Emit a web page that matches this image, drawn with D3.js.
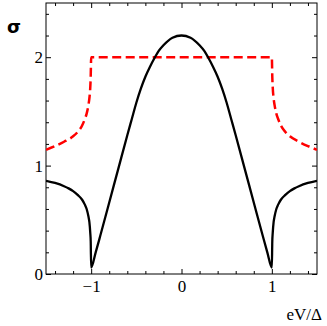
<!DOCTYPE html>
<html>

<head>
    <meta charset="UTF-8" />
    <script src="https://d3js.org/d3.v7.min.js"></script>
    <style>
        body { margin: 0; background: #fff; }
    </style>
</head>

<body>
    <script>
        // black curve (solid)
        let blackX = [-1.5, -1.4, -1.3, -1.25, -1.2, -1.15, -1.1, -1.07, -1.05, -1.03, -1.02, -1.01, -1.005, -1.0,
            -0.95, -0.9, -0.8, -0.7, -0.6, -0.55, -0.5, -0.45, -0.4, -0.35, -0.3, -0.25, -0.2, -0.1, 0,
            0.1, 0.2, 0.25, 0.3, 0.35, 0.4, 0.45, 0.5, 0.55, 0.6, 0.7, 0.8, 0.9, 0.95,
            1.0, 1.005, 1.01, 1.02, 1.03, 1.05, 1.07, 1.1, 1.15, 1.2, 1.25, 1.3, 1.4, 1.5];
        let blackY = [0.86, 0.84, 0.81, 0.79, 0.765, 0.73, 0.685, 0.64, 0.60, 0.53, 0.48, 0.38, 0.30, 0.06,
            0.20, 0.35, 0.66, 0.97, 1.28, 1.43, 1.58, 1.71, 1.82, 1.91, 1.99, 2.06, 2.11, 2.18, 2.20,
            2.18, 2.11, 2.06, 1.99, 1.91, 1.82, 1.71, 1.58, 1.43, 1.28, 0.97, 0.66, 0.35, 0.20,
            0.06, 0.30, 0.38, 0.48, 0.53, 0.60, 0.64, 0.685, 0.73, 0.765, 0.79, 0.81, 0.84, 0.86];

        // red curve (dashed)
        let redX = [-1.5, -1.4, -1.3, -1.2, -1.15, -1.1, -1.07, -1.05, -1.03, -1.02, -1.01, -1.005, -1.0,
            -0.5, 0, 0.5,
            1.0, 1.005, 1.01, 1.02, 1.03, 1.05, 1.07, 1.1, 1.15, 1.2, 1.3, 1.4, 1.5];
        let redY = [1.146, 1.18, 1.22, 1.27, 1.31, 1.37, 1.43, 1.48, 1.56, 1.62, 1.72, 1.82, 2.0,
            2.0, 2.0, 2.0,
            2.0, 1.82, 1.72, 1.62, 1.56, 1.48, 1.43, 1.37, 1.31, 1.27, 1.22, 1.18, 1.146];

        let xMajor = [-1, 0, 1];
        let xMinor = [-1.4, -1.2, -0.8, -0.6, -0.4, -0.2, 0.2, 0.4, 0.6, 0.8, 1.2, 1.4];
        let yMajor = [0, 1, 2];
        let yMinor = [0.2, 0.4, 0.6, 0.8, 1.2, 1.4, 1.6, 1.8, 2.2, 2.4];

        let width = 327;
        let height = 326;
        let margin = { top: 3, right: 10, bottom: 52, left: 46 };

        let svg = d3.select("body")
            .append("svg")
            .attr("width", width)
            .attr("height", height)

        let x = d3.scaleLinear()
            .domain([-1.5, 1.5])
            .range([margin.left, width - margin.right]);

        let y = d3.scaleLinear()
            .domain([0, 2.5])
            .range([height - margin.bottom, margin.top]);

        let serif = "'Liberation Serif', 'Times New Roman', serif";

        function styleAxis(g) {
            g.select(".domain").remove();
            g.selectAll("line").attr("stroke", "#000").attr("stroke-width", 1);
            g.selectAll("text").attr("font-family", serif).attr("font-size", 17).attr("fill", "#000");
        }

        // bottom
        svg.append("g")
            .attr("transform", `translate(0,${height - margin.bottom})`)
            .call(d3.axisBottom(x).tickValues(xMajor).tickSize(-5).tickPadding(6).tickFormat(d3.format("d")))
            .call(styleAxis);
        svg.append("g")
            .attr("transform", `translate(0,${height - margin.bottom})`)
            .call(d3.axisBottom(x).tickValues(xMinor).tickSize(-3).tickFormat(""))
            .call(styleAxis);
        // top
        svg.append("g")
            .attr("transform", `translate(0,${margin.top})`)
            .call(d3.axisTop(x).tickValues(xMajor).tickSize(-5).tickFormat(""))
            .call(styleAxis);
        svg.append("g")
            .attr("transform", `translate(0,${margin.top})`)
            .call(d3.axisTop(x).tickValues(xMinor).tickSize(-3).tickFormat(""))
            .call(styleAxis);
        // left
        svg.append("g")
            .attr("transform", `translate(${margin.left},0)`)
            .call(d3.axisLeft(y).tickValues(yMajor).tickSize(-5).tickPadding(3).tickFormat(d3.format("d")))
            .call(styleAxis);
        svg.append("g")
            .attr("transform", `translate(${margin.left},0)`)
            .call(d3.axisLeft(y).tickValues(yMinor).tickSize(-3).tickFormat(""))
            .call(styleAxis);
        // right
        svg.append("g")
            .attr("transform", `translate(${width - margin.right},0)`)
            .call(d3.axisRight(y).tickValues(yMajor).tickSize(-5).tickFormat(""))
            .call(styleAxis);
        svg.append("g")
            .attr("transform", `translate(${width - margin.right},0)`)
            .call(d3.axisRight(y).tickValues(yMinor).tickSize(-3).tickFormat(""))
            .call(styleAxis);

        // frame
        svg.append("rect")
            .attr("x", margin.left)
            .attr("y", margin.top)
            .attr("width", width - margin.left - margin.right)
            .attr("height", height - margin.top - margin.bottom)
            .attr("fill", "none")
            .attr("stroke", "#000")
            .attr("stroke-width", 1);

        svg.append("clipPath").attr("id", "plot")
            .append("rect")
            .attr("x", margin.left)
            .attr("y", margin.top)
            .attr("width", width - margin.left - margin.right)
            .attr("height", height - margin.top - margin.bottom);

        let line = d3.line()
            .x(function (d) { return x(d[0]) })
            .y(function (d) { return y(d[1]) })
            .curve(d3.curveMonotoneX);

        svg.append("path")
            .datum(redX.map(function (v, i) { return [v, redY[i]] }))
            .attr("clip-path", "url(#plot)")
            .attr("fill", "none")
            .attr("stroke", "#ff0000")
            .attr("stroke-width", 2.5)
            .attr("stroke-dasharray", "9,4.5")
            .attr("d", line);

        svg.append("path")
            .datum(blackX.map(function (v, i) { return [v, blackY[i]] }))
            .attr("clip-path", "url(#plot)")
            .attr("fill", "none")
            .attr("stroke", "#000")
            .attr("stroke-width", 2.3)
            .attr("stroke-linejoin", "round")
            .attr("d", line);

        svg.append("text")
            .attr("x", 7)
            .attr("y", 33)
            .attr("font-family", "'DejaVu Sans', sans-serif")
            .attr("font-weight", "bold")
            .attr("font-size", 18)
            .text("σ");

        svg.append("text")
            .attr("x", 322)
            .attr("y", 320)
            .style("text-anchor", "end")
            .attr("font-family", serif)
            .attr("font-size", 17)
            .text("eV/Δ");
    </script>
</body>

</html>
